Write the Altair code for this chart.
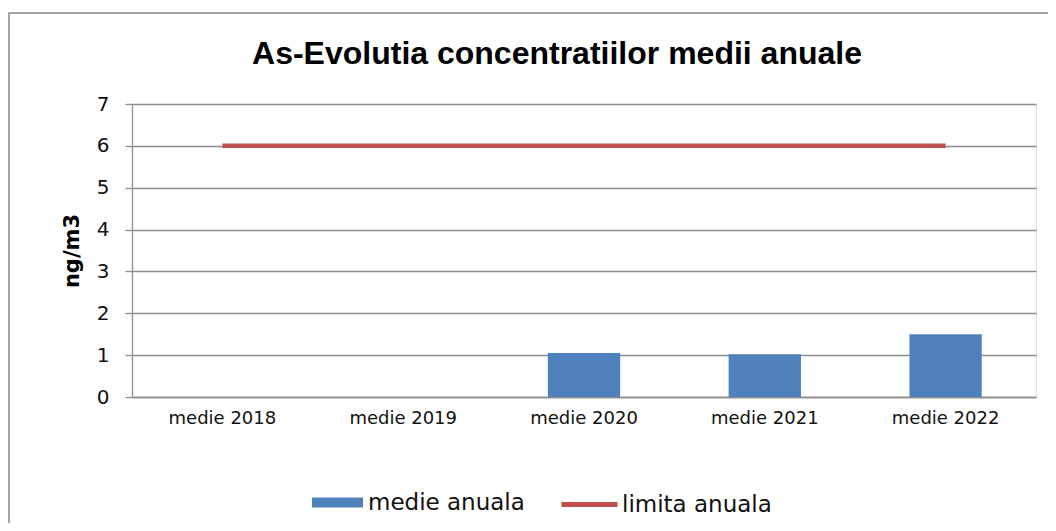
import altair as alt
import pandas as pd

categories = ["medie 2018", "medie 2019", "medie 2020", "medie 2021", "medie 2022"]
medie_anuala = [None, None, 1.05, 1.02, 1.50]
limita_anuala = [6, 6, 6, 6, 6]
y_ticks = [0, 1, 2, 3, 4, 5, 6, 7]

df = pd.DataFrame({
    "cat": categories,
    "medie": medie_anuala,
    "limita": limita_anuala,
    "s_bar": ["medie anuala"] * len(categories),
    "s_line": ["limita anuala"] * len(categories),
})

W, H = 904, 293
GRID = "#8C8C8C"
FONT = "DejaVu Sans"

x_enc = alt.X(
    "cat:N",
    scale=alt.Scale(domain=categories, paddingInner=0.6, paddingOuter=0.3),
    axis=alt.Axis(
        title=None, labelAngle=0, ticks=False, domain=True, domainColor=GRID,
        domainWidth=1.3, labelFont=FONT, labelFontSize=18, labelColor="#111111",
        labelPadding=12, grid=False,
    ),
)

y_scale = alt.Scale(domain=[0, 7], nice=False, zero=True)

bars = alt.Chart(df).mark_bar(color="#4F81BD").encode(
    x=x_enc,
    y=alt.Y(
        "medie:Q",
        scale=y_scale,
        axis=alt.Axis(
            title="ng/m3", values=y_ticks, grid=True, gridColor=GRID, gridWidth=1.3,
            domain=True, domainColor=GRID, domainWidth=1.3, ticks=True, tickSize=7,
            tickColor=GRID, tickWidth=1.3, labelFont=FONT, labelFontSize=20,
            labelColor="#111111", labelPadding=16, titleFont=FONT, titleFontSize=21,
            titleFontWeight="bold", titleColor="#000000", titlePadding=14,
        ),
    ),
    color=alt.Color(
        "s_bar:N",
        scale=alt.Scale(domain=["medie anuala"], range=["#4F81BD"]),
        legend=alt.Legend(
            title=None, orient="none", legendX=180, legendY=373,
            symbolType="M-1,-0.2H1V0.2H-1Z", symbolSize=2601, symbolStrokeWidth=0,
            labelFont=FONT, labelFontSize=23, labelColor="#111111", labelOffset=5,
        ),
    ),
)

line = alt.Chart(df).mark_line(strokeWidth=4.5, color="#C0504D").encode(
    x=alt.X("cat:N", scale=alt.Scale(domain=categories, paddingInner=0.6, paddingOuter=0.3)),
    y=alt.Y("limita:Q", scale=y_scale),
    color=alt.Color(
        "s_line:N",
        scale=alt.Scale(domain=["limita anuala"], range=["#C0504D"]),
        legend=alt.Legend(
            title=None, orient="none", legendX=427, legendY=370,
            symbolType="stroke", symbolSize=3136, symbolStrokeWidth=5,
            labelFont=FONT, labelFontSize=23, labelColor="#111111", labelOffset=2,
        ),
    ),
)

frame = alt.Chart(pd.DataFrame({"d": [0]})).mark_rect(
    fill="transparent", stroke="#868686", strokeWidth=1.5
).encode(
    x=alt.value(-123), x2=alt.value(W + 60), y=alt.value(-91), y2=alt.value(H + 200)
)

chart = alt.layer(frame, bars, line).resolve_scale(color="independent").properties(
    width=W,
    height=H,
    autosize=alt.AutoSizeParams(type="none"),
    padding={"left": 124, "top": 96, "right": 12, "bottom": 126},
    title=alt.TitleParams(
        "As-Evolutia concentratiilor medii anuale",
        font="Liberation Sans", fontSize=32, fontWeight="bold", color="#000000",
        anchor="middle", dx=-27, baseline="alphabetic", offset=-84,
    ),
).configure_view(stroke="transparent").configure(background="white")

chart.save("out.html", embed_options={"renderer": "svg", "actions": False})
